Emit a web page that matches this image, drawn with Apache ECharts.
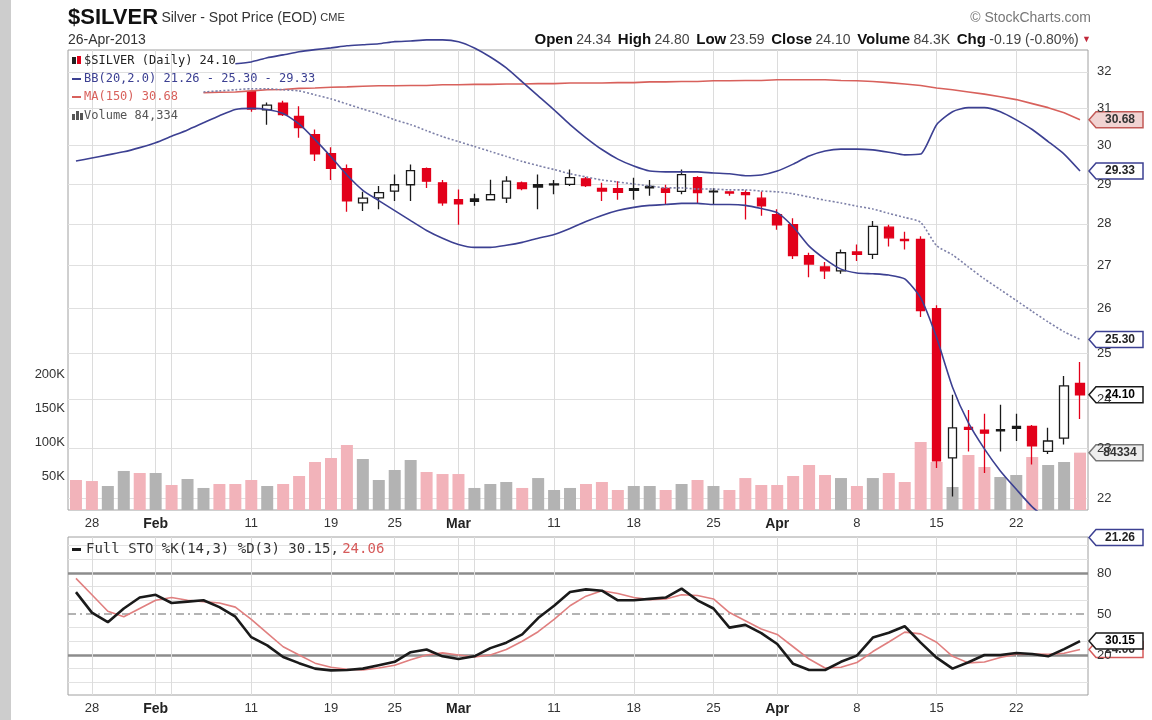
<!DOCTYPE html>
<html>
<head>
<meta charset="utf-8">
<script src="https://cdn.jsdelivr.net/npm/echarts@6/dist/echarts.min.js"></script>
<style>
html, body { margin: 0; padding: 0; background: #fff; }
#chart { width: 1152px; height: 720px; }
</style>
</head>
<body>
<div id="chart"></div>
<script>
// trading days, 25 Jan - 26 Apr 2013
const dates = [
  'Jan 25', 'Jan 28', 'Jan 29', 'Jan 30', 'Jan 31',
  'Feb 1', 'Feb 4', 'Feb 5', 'Feb 6', 'Feb 7', 'Feb 8', 'Feb 11', 'Feb 12', 'Feb 13', 'Feb 14', 'Feb 15',
  'Feb 19', 'Feb 20', 'Feb 21', 'Feb 22', 'Feb 25', 'Feb 26', 'Feb 27', 'Feb 28',
  'Mar 1', 'Mar 4', 'Mar 5', 'Mar 6', 'Mar 7', 'Mar 8', 'Mar 11', 'Mar 12', 'Mar 13', 'Mar 14', 'Mar 15',
  'Mar 18', 'Mar 19', 'Mar 20', 'Mar 21', 'Mar 22', 'Mar 25', 'Mar 26', 'Mar 27', 'Mar 28',
  'Apr 1', 'Apr 2', 'Apr 3', 'Apr 4', 'Apr 5', 'Apr 8', 'Apr 9', 'Apr 10', 'Apr 11', 'Apr 12',
  'Apr 15', 'Apr 16', 'Apr 17', 'Apr 18', 'Apr 19', 'Apr 22', 'Apr 23', 'Apr 24', 'Apr 25', 'Apr 26'
]

// x axis labels (index into dates) and week grid lines
const tickIdx = [1, 5, 11, 16, 20, 24, 30, 35, 40, 44, 49, 54, 59]
const tickText = ['28', 'Feb', '11', '19', '25', 'Mar', '11', '18', '25', 'Apr', '8', '15', '22']
const weekLines = [1, 5, 6, 11, 16, 20, 24, 25, 30, 35, 40, 44, 49, 54, 59]
const monthText = ['Feb', 'Mar', 'Apr']

// price axis labels, stochastic levels
const priceTicks = [22, 23, 24, 25, 26, 27, 28, 29, 30, 31, 32]
const stoLevels = [0, 10, 20, 30, 40, 50, 60, 70, 80, 90, 100]
const volTicks = [50000, 100000, 150000, 200000]

const N = '-'
const opens = [N, N, N, N, N, N, N, N, N, N, N,
  31.45, 30.95, 31.13, 30.77, 30.28, 29.78, 29.39, 28.52, 28.65, 28.82, 28.98, 29.39, 29.03,
  28.60, 28.62, 28.60, 28.64, 29.03, 28.98, 29.00, 28.99, 29.13, 28.89, 28.88, 28.88, 28.94,
  28.89, 28.81, 29.16, 28.82, 28.80, 28.78, 28.64, 28.23, 27.98, 27.23, 26.96, 26.87, 27.32,
  27.26, 27.92, 27.62, 27.62, 25.99, 22.80, 23.42, 23.36, 23.37, 23.44, 23.44, 22.93, 23.20, 24.34]
const closes = [N, N, N, N, N, N, N, N, N, N, N,
  30.97, 31.08, 30.82, 30.47, 29.78, 29.40, 28.57, 28.64, 28.78, 28.98, 29.34, 29.07, 28.52,
  28.50, 28.56, 28.73, 29.07, 28.88, 28.92, 28.98, 29.16, 28.96, 28.82, 28.79, 28.84, 28.90,
  28.79, 29.24, 28.78, 28.80, 28.77, 28.73, 28.45, 27.98, 27.23, 27.03, 26.87, 27.30, 27.26,
  27.94, 27.66, 27.59, 25.95, 22.74, 23.41, 23.38, 23.30, 23.35, 23.40, 23.04, 23.14, 24.29, 24.10]
const lows = [N, N, N, N, N, N, N, N, N, N, N,
  30.90, 30.55, 30.78, 30.20, 29.59, 29.10, 28.30, 28.32, 28.36, 28.57, 28.57, 28.90, 28.45,
  27.98, 28.45, 28.58, 28.52, 28.84, 28.36, 28.74, 28.95, 28.92, 28.57, 28.60, 28.60, 28.70,
  28.48, 28.74, 28.52, 28.48, 28.70, 28.11, 28.20, 27.86, 27.15, 26.72, 26.68, 26.80, 27.10,
  27.15, 27.45, 27.38, 25.80, 22.60, 22.04, 22.93, 22.50, 22.93, 23.14, 22.67, 22.88, 23.07, 23.59]
const highs = [N, N, N, N, N, N, N, N, N, N, N,
  31.50, 31.15, 31.20, 31.05, 30.42, 29.95, 29.50, 28.80, 28.95, 29.24, 29.50, 29.42, 29.10,
  28.86, 28.75, 29.11, 29.20, 29.06, 29.24, 29.10, 29.37, 29.18, 29.03, 29.07, 29.16, 29.10,
  28.98, 29.37, 29.20, 28.89, 28.81, 28.84, 28.81, 28.36, 28.14, 27.30, 27.08, 27.38, 27.50,
  28.07, 27.98, 27.81, 27.70, 26.07, 24.10, 23.78, 23.70, 23.89, 23.70, 23.47, 23.41, 24.50, 24.80]
// 1 = closed above the previous close
const upDay = [0, 0, 1, 1, 0, 1, 0, 1, 1, 0, 0, 0, 1, 0, 0, 0, 0, 0, 1, 1, 1, 1, 0, 0, 0, 1, 1, 1, 0, 1,
  1, 1, 0, 0, 0, 1, 1, 0, 1, 0, 1, 0, 0, 0, 0, 0, 0, 0, 1, 0, 1, 0, 0, 0, 0, 1, 0, 0, 1, 1, 0, 1, 1, 0]
const volume = [44100, 42600, 35300, 57400, 54400, 54400, 36800, 45600, 32400, 38200,
  38200, 44100, 35300, 38200, 50000, 70600, 76500, 95600, 75000, 44100,
  58800, 73500, 55900, 52900, 52900, 32400, 38200, 41200, 32400, 47000,
  29400, 32400, 38200, 41200, 29400, 35300, 35300, 29400, 38200, 44100,
  35300, 29400, 47000, 36800, 36800, 50000, 66200, 51500, 47000, 35300,
  47000, 54400, 41200, 100000, 70600, 33800, 80900, 63200, 48500, 51500,
  77900, 66200, 70600, 84334]

const bbUpper = [N, N, N, N, N, N, N, N, N, N,
  32.23, 32.28, 32.40, 32.48, 32.57, 32.63, 32.68, 32.74, 32.77, 32.80, 32.86, 32.88, 32.91, 32.91,
  32.86, 32.68, 32.42, 32.11, 31.72, 31.33, 30.95, 30.55, 30.20, 29.89, 29.64, 29.46, 29.33, 29.31,
  29.31, 29.31, 29.28, 29.26, 29.21, 29.23, 29.33, 29.51, 29.72, 29.85, 29.90, 29.90, 29.88, 29.82,
  29.75, 29.77, 30.55, 30.90, 31.01, 31.01, 30.90, 30.68, 30.42, 30.10, 29.77, 29.33]
const bbMid = [N, N, N, N, N, N, N, N,
  31.44, 31.47, 31.50, 31.53, 31.53, 31.50, 31.47, 31.36, 31.25, 31.11, 30.97, 30.84, 30.68, 30.55,
  30.39, 30.23, 30.10, 29.97, 29.84, 29.71, 29.58, 29.47, 29.37, 29.26, 29.18, 29.10, 29.05, 29.00,
  28.95, 28.90, 28.90, 28.87, 28.87, 28.85, 28.85, 28.82, 28.80, 28.75, 28.67, 28.59, 28.52, 28.44,
  28.37, 28.26, 28.16, 28.04, 27.47, 27.25, 26.96, 26.68, 26.43, 26.18, 25.93, 25.69, 25.47, 25.30]
const bbLower = [29.59, 29.67, 29.75, 29.83, 29.94, 30.07, 30.24, 30.41, 30.60, 30.79,
  30.96, 30.99, 30.96, 30.85, 30.57, 30.15, 29.70, 29.23, 28.84, 28.58,
  28.33, 28.08, 27.84, 27.65, 27.50, 27.43, 27.43, 27.48, 27.55, 27.65,
  27.74, 27.89, 28.06, 28.21, 28.33, 28.41, 28.46, 28.48, 28.51, 28.51,
  28.48, 28.48, 28.46, 28.38, 28.28, 27.93, 27.46, 27.15, 26.91, 26.82,
  26.80, 26.77, 26.68, 26.24, 25.34, 24.26, 23.51, 22.98, 22.54, 22.18,
  21.84, 21.60, 21.40, 21.26]
const ma150 = [N, N, N, N, N, N, N, N,
  31.42, 31.43, 31.44, 31.47, 31.50, 31.51, 31.54, 31.55, 31.57, 31.58, 31.60, 31.61, 31.61, 31.62,
  31.62, 31.64, 31.64, 31.65, 31.65, 31.66, 31.66, 31.67, 31.67, 31.69, 31.69, 31.69, 31.70, 31.70,
  31.72, 31.72, 31.73, 31.73, 31.75, 31.75, 31.76, 31.76, 31.78, 31.78, 31.78, 31.78, 31.76, 31.75,
  31.73, 31.70, 31.66, 31.62, 31.55, 31.50, 31.44, 31.38, 31.31, 31.23, 31.12, 31.01, 30.87, 30.68]

const stoK = [66, 51, 44, 54, 62, 64, 58, 59, 60, 55, 48, 33, 27, 18.5, 14, 10, 8.7, 9, 10, 12.5,
  15, 22, 24, 19, 17, 19, 25, 29, 35, 47, 56, 66, 68, 67, 60, 60, 61, 62, 68.5, 60,
  54, 40, 42, 36, 28, 13.5, 9, 9, 15, 19.5, 32.7, 36.3, 41, 29, 18, 10, 14.7, 20, 20, 21.4,
  20.7, 19, 24.3, 30.15]
const stoD = [76, 64, 52, 48, 54, 60, 62, 60, 59, 58, 55, 46, 36, 26, 20, 14, 11, 9.5, 9, 10.5,
  12.5, 16.5, 20, 21.5, 20, 18.5, 20, 24, 30, 37, 46, 56, 63, 67, 65, 62, 60.5, 61, 64, 63.5,
  61, 51, 45, 39, 35, 26, 17, 10.5, 11, 14.5, 22.5, 29.5, 36.7, 35.4, 29.3, 19, 14.2, 14.9, 18.2, 20.5,
  20.7, 20.4, 21.3, 24.06]

const RED = '#e2001a'
const BLACK = '#1a1a1a'
const NAVY = '#3c4092'
const MA_RED = '#d8615c'
const FONT = 'Liberation Sans'
const MONO = 'DejaVu Sans Mono'
const last = dates.length - 1

const chart = echarts.init(document.getElementById('chart'))

const candleData = dates.map((d, i) => {
  if (opens[i] === N) {
    return [N, N, N, N]
  }
  const col = upDay[i] ? BLACK : RED
  const fill = closes[i] >= opens[i] ? 'rgba(255,255,255,0)' : col
  return {
    value: [opens[i], closes[i], lows[i], highs[i]],
    itemStyle: { color: fill, color0: fill, borderColor: col, borderColor0: col, borderWidth: 1.3 },
  }
})

const volData = volume.map((v, i) => ({
  value: v,
  itemStyle: { color: upDay[i] ? '#b3b3b3' : '#f2b3ba' },
}))

const vGrid = weekLines.map((i) => ({
  xAxis: dates[i],
  lineStyle: { color: '#dcdcdc', width: 1, type: 'solid' },
  label: { show: false },
}))

const priceGrid = priceTicks.map((p) => ({
  yAxis: p,
  lineStyle: { color: '#e0e0e0', width: 1, type: 'solid' },
  label: { show: true, position: 'end', formatter: String(p), color: '#333', fontSize: 13, fontFamily: FONT, distance: 9 },
}))

const stoGrid = stoLevels.map((v) => {
  let lineStyle = { color: '#e2e2e2', width: 1, type: 'solid' }
  if (v === 80 || v === 20) {
    lineStyle = { color: '#8c8c8c', width: 2.5, type: 'solid' }
  } else if (v === 50) {
    lineStyle = { color: '#9a9a9a', width: 1.5, type: [8, 4, 2, 4] }
  }
  const labelled = v === 80 || v === 50 || v === 20
  return {
    yAxis: v,
    lineStyle: lineStyle,
    label: { show: labelled, position: 'end', formatter: String(v), color: '#333', fontSize: 13, fontFamily: FONT, distance: 9 },
  }
})

const xLabel = {
  interval: (index) => tickIdx.includes(index),
  formatter: (value, index) => {
    const t = tickText[tickIdx.indexOf(index)]
    return monthText.includes(t) ? '{m|' + t + '}' : t
  },
  color: '#333',
  fontSize: 13,
  fontFamily: FONT,
  margin: 7,
  rich: { m: { fontWeight: 'bold', fontSize: 14, fontFamily: FONT, color: '#222' } },
}

const hidden = { show: false }

chart.setOption({
  animation: false,
  backgroundColor: '#fff',
  grid: [
    { left: 68, right: 64, top: 50, height: 460, show: true, borderColor: '#a0a0a0', borderWidth: 1, backgroundColor: '#fff' },
    { left: 68, right: 64, top: 537, height: 158, show: true, borderColor: '#a0a0a0', borderWidth: 1, backgroundColor: '#fff' },
  ],
  xAxis: [
    { type: 'category', gridIndex: 0, data: dates, axisLine: hidden, axisTick: hidden, splitLine: hidden, axisLabel: xLabel },
    { type: 'category', gridIndex: 1, data: dates, axisLine: hidden, axisTick: hidden, splitLine: hidden, axisLabel: xLabel },
  ],
  yAxis: [
    { type: 'log', logBase: 10, gridIndex: 0, position: 'right', min: 21.78, max: 32.62,
      axisLine: hidden, axisTick: hidden, axisLabel: hidden, splitLine: hidden },
    { type: 'value', gridIndex: 0, position: 'left', min: 0, max: 676470, interval: 50000,
      axisLine: hidden, axisTick: hidden, splitLine: hidden,
      axisLabel: {
        formatter: (v) => (volTicks.includes(v) ? v / 1000 + 'K' : ''),
        color: '#333', fontSize: 13, fontFamily: FONT, margin: 3,
      } },
    { type: 'value', gridIndex: 1, position: 'right', min: -9.3, max: 106.3,
      axisLine: hidden, axisTick: hidden, axisLabel: hidden, splitLine: hidden },
  ],
  series: [
    {
      name: 'grid', type: 'line', xAxisIndex: 0, yAxisIndex: 0, data: ma150, silent: true, z: 1,
      symbol: 'none', lineStyle: { opacity: 0 },
      markLine: { silent: true, symbol: 'none', z: 1, animation: false, data: priceGrid.concat(vGrid) },
    },
    {
      name: 'Volume', type: 'bar', xAxisIndex: 0, yAxisIndex: 1, data: volData, barWidth: 12, z: 6, silent: true,
    },
    {
      name: '$SILVER', type: 'candlestick', xAxisIndex: 0, yAxisIndex: 0, data: candleData, barWidth: 9, z: 7, silent: true,
    },
    {
      name: 'MA(150)', type: 'line', xAxisIndex: 0, yAxisIndex: 0, data: ma150, symbol: 'none', z: 8, silent: true,
      lineStyle: { color: MA_RED, width: 1.6 },
    },
    {
      name: 'BB upper', type: 'line', xAxisIndex: 0, yAxisIndex: 0, data: bbUpper, symbol: 'none', z: 8, silent: true,
      clip: false, smooth: 0.2, lineStyle: { color: NAVY, width: 1.6 },
    },
    {
      name: 'BB mid', type: 'line', xAxisIndex: 0, yAxisIndex: 0, data: bbMid, symbol: 'none', z: 8, silent: true,
      smooth: 0.2, lineStyle: { color: '#7d80a8', width: 1.6, type: [2, 2] },
    },
    {
      name: 'BB lower', type: 'line', xAxisIndex: 0, yAxisIndex: 0, data: bbLower, symbol: 'none', z: 8, silent: true,
      smooth: 0.2, lineStyle: { color: NAVY, width: 1.6 },
    },
    {
      name: 'stogrid', type: 'line', xAxisIndex: 1, yAxisIndex: 2, data: stoD, silent: true, z: 1,
      symbol: 'none', lineStyle: { opacity: 0 },
      markLine: { silent: true, symbol: 'none', z: 1, animation: false, data: stoGrid.concat(vGrid) },
    },
    {
      name: '%D', type: 'line', xAxisIndex: 1, yAxisIndex: 2, data: stoD, symbol: 'none', z: 8, silent: true,
      lineStyle: { color: '#e07f7f', width: 1.6 },
    },
    {
      name: '%K', type: 'line', xAxisIndex: 1, yAxisIndex: 2, data: stoK, symbol: 'none', z: 9, silent: true,
      lineStyle: { color: BLACK, width: 2.6 },
    },
  ],
})

// value tags on the right edge, placed through the axes
const tagX = chart.getWidth() - 63

function tag(y, text, stroke, fill, color) {
  return {
    type: 'group', x: tagX, y: y, z: 100,
    children: [
      { type: 'polygon', shape: { points: [[0, 0], [7, -8], [54, -8], [54, 8], [7, 8]] },
        style: { fill: fill, stroke: stroke, lineWidth: 1.5 } },
      { type: 'text', x: 31, y: 0,
        style: { text: text, fill: color, font: 'bold 12px ' + FONT, align: 'center', verticalAlign: 'middle' } },
    ],
  }
}

const priceY = (v) => chart.convertToPixel({ xAxisIndex: 0, yAxisIndex: 0 }, [dates[last], v])[1]
const volY = (v) => chart.convertToPixel({ xAxisIndex: 0, yAxisIndex: 1 }, [dates[last], v])[1]
const stoY = (v) => chart.convertToPixel({ xAxisIndex: 1, yAxisIndex: 2 }, [dates[last], v])[1]

const tags = [
  tag(priceY(ma150[last]), ma150[last].toFixed(2), '#c25a57', '#f1d3d2', '#333'),
  tag(priceY(bbUpper[last]), bbUpper[last].toFixed(2), NAVY, '#fff', '#222'),
  tag(priceY(bbMid[last]), bbMid[last].toFixed(2), NAVY, '#fff', '#222'),
  tag(volY(volume[last]), String(volume[last]), '#777', '#eee', '#333'),
  tag(priceY(closes[last]), closes[last].toFixed(2), BLACK, '#fff', '#000'),
  tag(priceY(bbLower[last]), bbLower[last].toFixed(2), NAVY, '#fff', '#222'),
  tag(stoY(stoD[last]), stoD[last].toFixed(2), '#d65b5b', '#fff', '#333'),
  tag(stoY(stoK[last]), stoK[last].toFixed(2), BLACK, '#fff', '#000'),
]

const legendRow = (y, icon, text, color) => [
  icon,
  { type: 'text', x: 84, y: y, z: 50,
    style: { text: text, fill: color, font: '12px ' + MONO, verticalAlign: 'middle' } },
]

const header = [
  { type: 'rect', x: 0, y: 0, z: 60, shape: { width: 11, height: 720 }, style: { fill: '#cdcdcd' } },
  { type: 'text', x: 68, y: 18, z: 50,
    style: {
      text: '{a|$SILVER} {b|Silver - Spot Price (EOD)} {c|CME}', verticalAlign: 'middle',
      rich: {
        a: { font: 'bold 22px ' + FONT, fill: '#111' },
        b: { font: '14px ' + FONT, fill: '#333' },
        c: { font: '11px ' + FONT, fill: '#333' },
      },
    } },
  { type: 'text', x: 68, y: 40, z: 50, style: { text: '26-Apr-2013', font: '14px ' + FONT, fill: '#333', verticalAlign: 'middle' } },
  { type: 'text', x: 1091, y: 18, z: 50, style: { text: '© StockCharts.com', font: '14px ' + FONT, fill: '#777', align: 'right', verticalAlign: 'middle' } },
  { type: 'text', x: 1091, y: 40, z: 50,
    style: {
      text: '{l|Open} {v|24.34}  {l|High} {v|24.80}  {l|Low} {v|23.59}  {l|Close} {v|24.10}  {l|Volume} {v|84.3K}  {l|Chg} {v|-0.19 (-0.80%)} {t|▼}',
      align: 'right', verticalAlign: 'middle',
      rich: {
        l: { font: 'bold 15px ' + FONT, fill: '#111' },
        v: { font: '14px ' + FONT, fill: '#444' },
        t: { font: '9px ' + FONT, fill: '#c0283a' },
      },
    } },
]

const legend = [].concat(
  legendRow(61, { type: 'group', x: 72, y: 61, z: 50, children: [
      { type: 'rect', shape: { x: 0, y: -4, width: 4, height: 7 }, style: { fill: '#222' } },
      { type: 'rect', shape: { x: 5, y: -5, width: 4, height: 8 }, style: { fill: RED } },
    ] }, '$SILVER (Daily) ' + closes[last].toFixed(2), '#222'),
  legendRow(79, { type: 'rect', x: 72, y: 78, z: 50, shape: { width: 9, height: 2 }, style: { fill: NAVY } },
    'BB(20,2.0) ' + bbLower[last].toFixed(2) + ' - ' + bbMid[last].toFixed(2) + ' - ' + bbUpper[last].toFixed(2), NAVY),
  legendRow(97, { type: 'rect', x: 72, y: 96, z: 50, shape: { width: 9, height: 2 }, style: { fill: MA_RED } },
    'MA(150) ' + ma150[last].toFixed(2), MA_RED),
  legendRow(116, { type: 'group', x: 72, y: 116, z: 50, children: [
      { type: 'rect', shape: { x: 0, y: -2, width: 3, height: 6 }, style: { fill: '#555' } },
      { type: 'rect', shape: { x: 4, y: -5, width: 3, height: 9 }, style: { fill: '#555' } },
      { type: 'rect', shape: { x: 8, y: -3, width: 3, height: 7 }, style: { fill: '#555' } },
    ] }, 'Volume ' + volume[last].toLocaleString('en-US'), '#555'),
  [
    { type: 'rect', x: 72, y: 548, z: 50, shape: { width: 9, height: 3 }, style: { fill: BLACK } },
    { type: 'text', x: 86, y: 549, z: 50,
      style: {
        text: '{k|Full STO %K(14,3) %D(3) ' + stoK[last].toFixed(2) + ',} {d|' + stoD[last].toFixed(2) + '}',
        verticalAlign: 'middle',
        rich: { k: { font: '14px ' + MONO, fill: '#333' }, d: { font: '14px ' + MONO, fill: '#d65b5b' } },
      } },
  ]
)

chart.setOption({ graphic: header.concat(legend, tags) })
</script>
</body>
</html>
